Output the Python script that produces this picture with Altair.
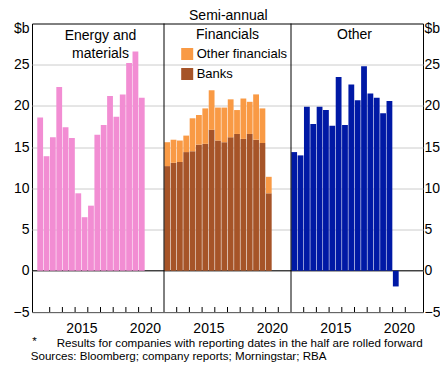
import altair as alt
import pandas as pd

# ---------------- data ----------------
periods = [2012.0, 2012.5, 2013.0, 2013.5, 2014.0, 2014.5, 2015.0, 2015.5,
           2016.0, 2016.5, 2017.0, 2017.5, 2018.0, 2018.5, 2019.0, 2019.5, 2020.0]
energy = [18.6, 13.9, 16.2, 22.3, 17.4, 16.1, 9.4, 6.5, 7.9, 16.5, 17.7,
          21.2, 18.7, 21.4, 25.2, 26.6, 21.0]
banks = [12.7, 13.1, 13.2, 14.4, 14.5, 15.3, 15.4, 17.1, 15.8, 15.6, 16.2,
         16.6, 16.0, 16.6, 15.9, 15.5, 9.4]
other_financials = [2.9, 2.8, 2.6, 2.0, 4.0, 3.6, 4.3, 4.8, 4.0, 4.2, 4.6,
                    2.9, 4.9, 3.9, 5.5, 4.2, 2.0]
other = [14.4, 14.0, 19.9, 17.8, 19.9, 19.5, 17.6, 23.5, 17.7, 22.6, 20.7,
         24.8, 21.5, 21.0, 19.1, 20.6, -1.9]

panel_titles = ["Energy and\nmaterials", "Financials", "Other"]
series_names = ["Other financials", "Banks"]
year_ticks = [2013, 2014, 2015, 2016, 2017, 2018, 2019, 2020, 2021]
year_labels = [2015, 2020]
y_ticks = [-5, 0, 5, 10, 15, 20, 25]
subtitle = ["Semi-annual"]
notes_star = ["*"]
notes_text = ["Results for companies with reporting dates in the half are rolled forward"]
sources_text = ["Sources: Bloomberg; company reports; Morningstar; RBA"]

PINK = "#F28DD3"
ORANGE = "#F99A45"
BROWN = "#A65428"
BLUE = "#0019A5"

START = 2012
SPAN = 10
W = 391
H = 288.5
FONT = "Liberation Sans"


def pos(p, panel):
    return panel * SPAN + (p - START) + 0.25


energy_df = pd.DataFrame({"x": [pos(p, 0) for p in periods], "value": energy})
fin_rows = []
for p, b, o in zip(periods, banks, other_financials):
    fin_rows.append({"x": pos(p, 1), "series": "Banks", "y0": 0.0, "y1": b})
    fin_rows.append({"x": pos(p, 1), "series": "Other financials", "y0": b, "y1": b + o})
fin_df = pd.DataFrame(fin_rows)
other_df = pd.DataFrame({"x": [pos(p, 2) for p in periods], "value": other})

tick_df = pd.DataFrame({"x": [i * SPAN + (y - START) for i in range(3) for y in year_ticks]})
divider_df = pd.DataFrame({"x": [SPAN, 2 * SPAN]})
label_vals = [i * SPAN + (t - START) + 0.5 for i in range(3) for t in year_labels]

xs = alt.Scale(domain=[0, 3 * SPAN], nice=False, zero=False)
ys = alt.Scale(domain=[-5, 30], nice=False, zero=False)

xaxis = alt.Axis(values=label_vals, labelExpr=f"'' + ({START} + floor(datum.value % {SPAN}))",
                 ticks=False, domain=False, grid=False, labelFontSize=14, labelColor="black",
                 labelPadding=9, labelFlush=False, title=None)
xenc = alt.X("x:Q", scale=xs, axis=xaxis)

left_axis = alt.Axis(values=y_ticks, orient="left", grid=True, gridColor="#cccccc", gridWidth=1,
                     ticks=False, domain=False, labelFontSize=14, labelPadding=3, labelColor="black",
                     title="$b", titleAngle=0, titleAlign="right", titleBaseline="middle",
                     titleX=-3, titleY=5, titleFontSize=14, titleFontWeight="normal", titleColor="black")
right_axis = alt.Axis(values=y_ticks, orient="right", grid=False,
                      ticks=False, domain=False, labelFontSize=14, labelPadding=1, labelColor="black",
                      title="$b", titleAngle=0, titleAlign="left", titleBaseline="middle",
                      titleX=1, titleY=5, titleFontSize=14, titleFontWeight="normal", titleColor="black")

zero = alt.Chart(pd.DataFrame({"z": [0]})).mark_rule(color="black", strokeWidth=1).encode(
    y=alt.Y("z:Q", scale=ys, axis=None))

energy_bars = alt.Chart(energy_df).mark_bar(width=5.8, color=PINK).encode(
    x=xenc, y=alt.Y("value:Q", scale=ys, axis=left_axis), y2=alt.datum(0))

fin_bars = alt.Chart(fin_df).mark_bar(width=5.8).encode(
    x=xenc,
    y=alt.Y("y0:Q", scale=ys, axis=None),
    y2="y1:Q",
    color=alt.Color("series:N", scale=alt.Scale(domain=series_names, range=[ORANGE, BROWN]),
                    legend=alt.Legend(orient="none", legendX=148.7, legendY=24, title=None,
                                      symbolType="square", symbolSize=144, symbolStrokeWidth=0,
                                      symbolOpacity=1, labelFontSize=13, labelColor="black",
                                      labelOffset=3, rowPadding=6, padding=0, labelFont=FONT)),
)

other_bars = alt.Chart(other_df).mark_bar(width=5.8, color=BLUE).encode(
    x=xenc, y=alt.Y("value:Q", scale=ys, axis=right_axis), y2=alt.datum(0))

ticks = alt.Chart(tick_df).mark_rule(color="black", strokeWidth=1).encode(
    x=xenc, y=alt.value(H), y2=alt.value(H - 5))

dividers = alt.Chart(divider_df).mark_rule(color="black", strokeWidth=1).encode(
    x=xenc, y=alt.value(0), y2=alt.value(H))

title_layers = []
title_y = [16.5, 15, 15]
for i, t in enumerate(panel_titles):
    title_layers.append(
        alt.Chart(pd.DataFrame({"x": [i * SPAN + SPAN / 2], "t": [t]})).mark_text(
            fontSize=14, align="center", baseline="alphabetic", lineBreak="\n", lineHeight=18,
            color="black", font=FONT).encode(x=xenc, y=alt.value(title_y[i]), text="t:N"))

sub = alt.Chart(pd.DataFrame({"t": subtitle})).mark_text(
    fontSize=14, align="center", baseline="alphabetic", color="black", font=FONT).encode(
    x=alt.value(196.3), y=alt.value(-4), text="t:N")

star = alt.Chart(pd.DataFrame({"t": notes_star})).mark_text(
    fontSize=11.6, align="left", baseline="alphabetic", color="black", font=FONT).encode(
    x=alt.value(0.3), y=alt.value(321.5), text="t:N")
note = alt.Chart(pd.DataFrame({"t": notes_text})).mark_text(
    fontSize=11.6, align="left", baseline="alphabetic", color="black", font=FONT).encode(
    x=alt.value(24.7), y=alt.value(323.5), text="t:N")
src = alt.Chart(pd.DataFrame({"t": sources_text})).mark_text(
    fontSize=11.6, align="left", baseline="alphabetic", color="black", font=FONT).encode(
    x=alt.value(-1.3), y=alt.value(336), text="t:N")

chart = alt.layer(
    zero, energy_bars, fin_bars, other_bars, ticks, dividers, *title_layers, sub, star, note, src
).resolve_scale(y="independent").properties(
    width=W, height=H,
    autosize=alt.AutoSizeParams(type="none"),
    padding={"left": 24, "top": 15.5, "right": 17, "bottom": 50},
).configure(font=FONT).configure_view(stroke="black", strokeWidth=1)

chart.save("out.html", embed_options={"renderer": "svg", "actions": False})
